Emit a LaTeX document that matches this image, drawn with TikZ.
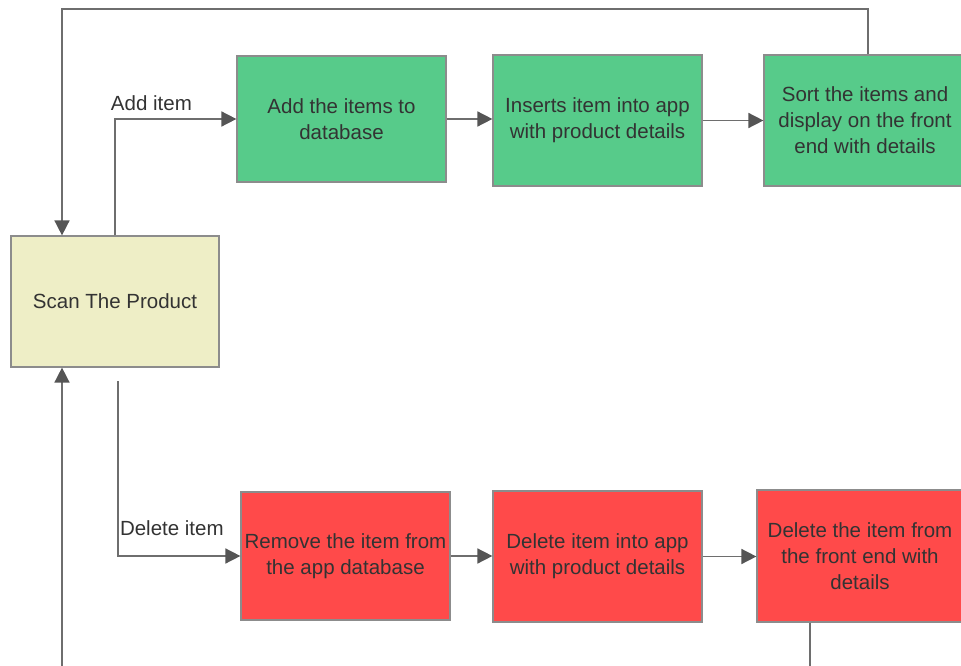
\documentclass[tikz,border=0pt]{standalone}
\usepackage{fontspec}
\setmainfont{Liberation Sans}
\usetikzlibrary{arrows.meta}
\definecolor{scanfill}{HTML}{EEEEC6}
\definecolor{addfill}{HTML}{57CB8A}
\definecolor{delfill}{HTML}{FF4A4A}
\definecolor{boxline}{HTML}{8C8C8C}
\definecolor{wire}{HTML}{6E6E6E}
\definecolor{tip}{HTML}{555555}
\definecolor{ink}{HTML}{333333}
\tikzset{
  stepbox/.style={draw=boxline, line width=1.2pt, text=ink, align=center,
    inner sep=0pt, font=\fontsize{20.5}{26}\selectfont},
  wireline/.style={draw=wire, line width=1.6pt},
  flow/.style={wireline, -{Triangle[length=15pt,width=15pt,color=tip]}},
  lbl/.style={text=ink, font=\fontsize{20.5}{26}\selectfont, inner sep=2pt}
}
\begin{document}
\begin{tikzpicture}[x=1pt,y=-1pt]
\useasboundingbox (0,0) rectangle (961,666);

% entry box
\node[stepbox, fill=scanfill, minimum width=208pt, minimum height=131pt] (scan) at (115,301.5) {Scan The Product};

% add branch
\node[stepbox, fill=addfill, minimum width=209pt, minimum height=126pt] (g1) at (341.5,119) {Add the items to\\database};
\node[stepbox, fill=addfill, minimum width=209pt, minimum height=131pt] (g2) at (597.5,120.5) {Inserts item into app\\with product details};
\node[stepbox, fill=addfill, minimum width=202pt, minimum height=131pt] (g3) at (865,120.5) {Sort the items and\\display on the front\\end with details};

% delete branch
\node[stepbox, fill=delfill, minimum width=209pt, minimum height=128pt] (r1) at (345.5,556) {Remove the item from\\the app database};
\node[stepbox, fill=delfill, minimum width=209pt, minimum height=131pt] (r2) at (597.5,556.5) {Delete item into app\\with product details};
\node[stepbox, fill=delfill, minimum width=206pt, minimum height=132pt] (r3) at (860,556) {Delete the item from\\the front end with\\details};

% free ends and routing points
\coordinate (looptop) at (62,9);
\coordinate (loopx) at (868,0);
\coordinate (delstart) at (118,381);
\coordinate (downend) at (810,680);
\coordinate (upstart) at (62,680);

% add item flow
\draw[flow] (scan.north) |- node[lbl, pos=0.65, above=5pt] (addlbl) {Add item} (g1.west);
\draw[flow] (g1.east) -- (g1.east -| g2.west);
\draw[flow] (g2.east) -- (g2.east -| g3.west);
\draw[flow] (g3.north -| loopx) |- (looptop) -- (looptop |- scan.north);

% delete item flow
\draw[flow] (delstart) |- node[lbl, pos=0.72, above=18pt] (dellbl) {Delete item} (r1.west);
\draw[flow] (r1.east) -- (r1.east -| r2.west);
\draw[flow] (r2.east) -- (r2.east -| r3.west);
\draw[wireline] (r3.south -| downend) -- (downend);
\draw[flow] (upstart) -- (upstart |- scan.south);
\end{tikzpicture}
\end{document}
